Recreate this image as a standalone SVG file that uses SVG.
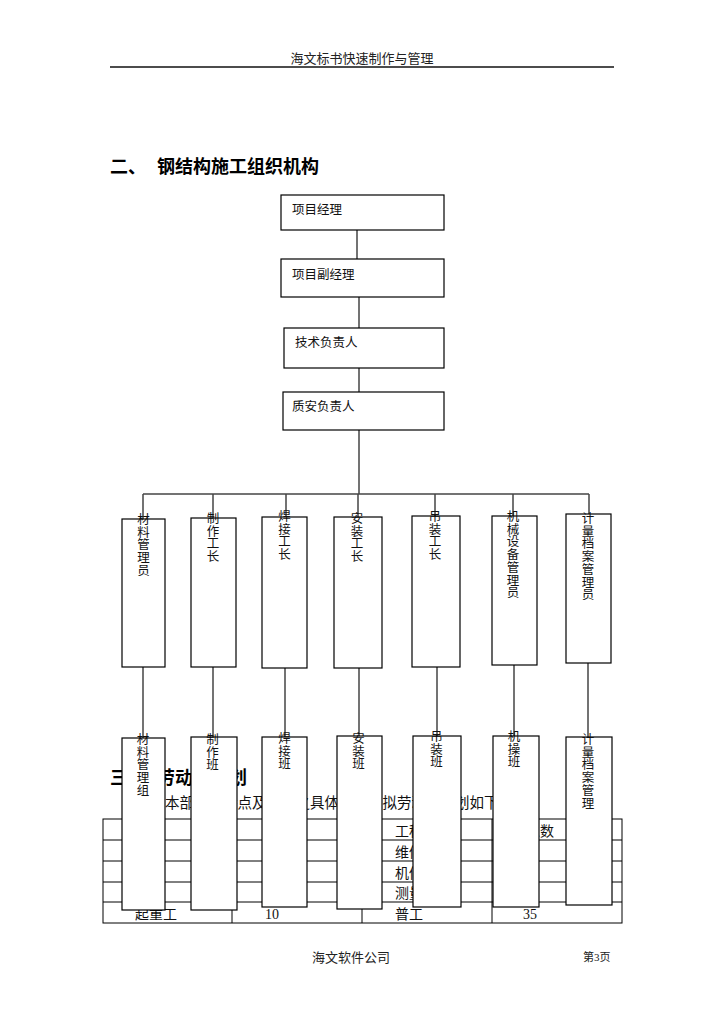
<svg xmlns="http://www.w3.org/2000/svg" width="724" height="1024" viewBox="0 0 724 1024">
<style>
.hd{font-family:"Liberation Serif","Noto Sans CJK SC",serif;font-size:13px;fill:#222}
.h2{font-family:"Noto Sans CJK SC","Liberation Sans",sans-serif;font-size:18px;font-weight:bold;fill:#000}
.t{font-family:"Noto Sans CJK SC","Liberation Sans",sans-serif;font-size:12.5px;fill:#111}
.v{font-family:"Noto Sans CJK SC","Liberation Sans",sans-serif;font-size:12.5px;fill:#111;text-anchor:middle}
.p{font-family:"Noto Sans CJK SC","Liberation Serif",sans-serif;font-size:14.5px;fill:#111}
.c{font-family:"Liberation Serif","Noto Sans CJK SC",serif;font-size:14px;fill:#111}
.box{fill:#fff;stroke:#000;stroke-width:1.2}
.ln{stroke:#444;stroke-width:1.5;fill:none}
.tb{stroke:#000;stroke-width:1;fill:none}
</style>
<rect width="724" height="1024" fill="#fff"/>
<g id="header">
<text class="hd" x="362" y="63" text-anchor="middle">海文标书快速制作与管理</text>
<line x1="110" y1="67" x2="614" y2="67" stroke="#111" stroke-width="1.5"/>
</g>
<g id="heading2"><text class="h2" x="110" y="173">二、<tspan x="157">钢结构施工组织机构</tspan></text></g>
<g id="section3">
<text class="h2" x="110" y="784">三、<tspan x="157">劳动力计划</tspan></text>
<text class="p" x="136" y="808">根据本部工程特点及现场之具体情况，拟劳动力计划如下：</text>
</g>
<g id="table">
<rect class="tb" x="103" y="819" width="519" height="104"/>
<line class="tb" x1="103" y1="840" x2="622" y2="840"/>
<line class="tb" x1="103" y1="861" x2="622" y2="861"/>
<line class="tb" x1="103" y1="882" x2="622" y2="882"/>
<line class="tb" x1="103" y1="902" x2="622" y2="902"/>
<line class="tb" x1="232" y1="819" x2="232" y2="923"/>
<line class="tb" x1="362" y1="819" x2="362" y2="923"/>
<line class="tb" x1="492" y1="819" x2="492" y2="923"/>
<text class="c" x="395" y="836">工种</text>
<text class="c" x="526" y="836">人数</text>
<text class="c" x="395" y="857">维修工</text>
<text class="c" x="395" y="878">机修工</text>
<text class="c" x="395" y="898">测量工</text>
<text class="c" x="135" y="919">起重工</text>
<text class="c" x="265" y="919">10</text>
<text class="c" x="395" y="919">普工</text>
<text class="c" x="523" y="919">35</text>
</g>
<g id="connectors">
<line class="ln" x1="357" y1="230" x2="357" y2="259"/>
<line class="ln" x1="359" y1="297" x2="359" y2="328"/>
<line class="ln" x1="359" y1="368" x2="359" y2="392"/>
<line class="ln" x1="359" y1="430" x2="359" y2="494"/>
<line class="ln" x1="143" y1="494" x2="589" y2="494"/>
<line class="ln" x1="143" y1="494" x2="143" y2="519"/>
<line class="ln" x1="213" y1="494" x2="213" y2="518"/>
<line class="ln" x1="286" y1="494" x2="286" y2="517"/>
<line class="ln" x1="358" y1="494" x2="358" y2="517"/>
<line class="ln" x1="435" y1="494" x2="435" y2="516"/>
<line class="ln" x1="513" y1="494" x2="513" y2="516"/>
<line class="ln" x1="589" y1="494" x2="589" y2="514"/>
<line class="ln" x1="143" y1="667" x2="143" y2="738"/>
<line class="ln" x1="213" y1="667" x2="213" y2="737"/>
<line class="ln" x1="285" y1="668" x2="285" y2="737"/>
<line class="ln" x1="359" y1="668" x2="359" y2="736"/>
<line class="ln" x1="437" y1="667" x2="437" y2="736"/>
<line class="ln" x1="514" y1="665" x2="514" y2="736"/>
<line class="ln" x1="588" y1="663" x2="588" y2="737"/>
</g>
<g id="n1"><rect class="box" x="281" y="195" width="163" height="35"/><text class="t" x="292" y="214">项目经理</text></g>
<g id="n2"><rect class="box" x="281" y="259" width="163" height="38"/><text class="t" x="292" y="279">项目副经理</text></g>
<g id="n3"><rect class="box" x="284" y="328" width="160" height="40"/><text class="t" x="295" y="347">技术负责人</text></g>
<g id="n4"><rect class="box" x="283" y="392" width="161" height="38"/><text class="t" x="292" y="411">质安负责人</text></g>
<g id="a1"><rect class="box" x="122" y="519" width="43" height="148"/><text class="v" x="143.5" y="524"><tspan x="143.5">材</tspan><tspan x="143.5" dy="12.7">料</tspan><tspan x="143.5" dy="12.7">管</tspan><tspan x="143.5" dy="12.7">理</tspan><tspan x="143.5" dy="12.7">员</tspan></text></g>
<g id="a2"><rect class="box" x="191" y="518" width="45" height="149"/><text class="v" x="213" y="523"><tspan x="213">制</tspan><tspan x="213" dy="12.7">作</tspan><tspan x="213" dy="12.7">工</tspan><tspan x="213" dy="12.7">长</tspan></text></g>
<g id="a3"><rect class="box" x="262" y="517" width="45" height="151"/><text class="v" x="284.5" y="521"><tspan x="284.5">焊</tspan><tspan x="284.5" dy="12.7">接</tspan><tspan x="284.5" dy="12.7">工</tspan><tspan x="284.5" dy="12.7">长</tspan></text></g>
<g id="a4"><rect class="box" x="334" y="517" width="48" height="151"/><text class="v" x="357" y="523"><tspan x="357">安</tspan><tspan x="357" dy="12.7">装</tspan><tspan x="357" dy="12.7">工</tspan><tspan x="357" dy="12.7">长</tspan></text></g>
<g id="a5"><rect class="box" x="412" y="516" width="48" height="151"/><text class="v" x="435" y="521"><tspan x="435">吊</tspan><tspan x="435" dy="12.7">装</tspan><tspan x="435" dy="12.7">工</tspan><tspan x="435" dy="12.7">长</tspan></text></g>
<g id="a6"><rect class="box" x="492" y="516" width="45" height="149"/><text class="v" x="513" y="521"><tspan x="513">机</tspan><tspan x="513" dy="12.7">械</tspan><tspan x="513" dy="12.7">设</tspan><tspan x="513" dy="12.7">备</tspan><tspan x="513" dy="12.7">管</tspan><tspan x="513" dy="12.7">理</tspan><tspan x="513" dy="12.7">员</tspan></text></g>
<g id="a7"><rect class="box" x="566" y="514" width="45" height="149"/><text class="v" x="588" y="523"><tspan x="588">计</tspan><tspan x="588" dy="12.7">量</tspan><tspan x="588" dy="12.7">档</tspan><tspan x="588" dy="12.7">案</tspan><tspan x="588" dy="12.7">管</tspan><tspan x="588" dy="12.7">理</tspan><tspan x="588" dy="12.7">员</tspan></text></g>
<g id="b1"><rect class="box" x="122" y="738" width="43" height="172"/><text class="v" x="143" y="744"><tspan x="143">材</tspan><tspan x="143" dy="12.7">料</tspan><tspan x="143" dy="12.7">管</tspan><tspan x="143" dy="12.7">理</tspan><tspan x="143" dy="12.7">组</tspan></text></g>
<g id="b2"><rect class="box" x="191" y="737" width="46" height="173"/><text class="v" x="212.5" y="744"><tspan x="212.5">制</tspan><tspan x="212.5" dy="12.7">作</tspan><tspan x="212.5" dy="12.7">班</tspan></text></g>
<g id="b3"><rect class="box" x="262" y="737" width="45" height="170"/><text class="v" x="284.5" y="743"><tspan x="284.5">焊</tspan><tspan x="284.5" dy="12.7">接</tspan><tspan x="284.5" dy="12.7">班</tspan></text></g>
<g id="b4"><rect class="box" x="337" y="736" width="45" height="173"/><text class="v" x="358.5" y="743"><tspan x="358.5">安</tspan><tspan x="358.5" dy="12.7">装</tspan><tspan x="358.5" dy="12.7">班</tspan></text></g>
<g id="b5"><rect class="box" x="413" y="736" width="48" height="171"/><text class="v" x="436.5" y="741"><tspan x="436.5">吊</tspan><tspan x="436.5" dy="12.7">装</tspan><tspan x="436.5" dy="12.7">班</tspan></text></g>
<g id="b6"><rect class="box" x="493" y="736" width="46" height="171"/><text class="v" x="514" y="741"><tspan x="514">机</tspan><tspan x="514" dy="12.7">操</tspan><tspan x="514" dy="12.7">班</tspan></text></g>
<g id="b7"><rect class="box" x="566" y="737" width="46" height="168"/><text class="v" x="588" y="744"><tspan x="588">计</tspan><tspan x="588" dy="12.7">量</tspan><tspan x="588" dy="12.7">档</tspan><tspan x="588" dy="12.7">案</tspan><tspan x="588" dy="12.7">管</tspan><tspan x="588" dy="12.7">理</tspan></text></g>
<g id="footer">
<text class="hd" x="312" y="962">海文软件公司</text>
<text class="hd" x="583" y="961" style="font-size:11px">第3页</text>
</g>
</svg>
